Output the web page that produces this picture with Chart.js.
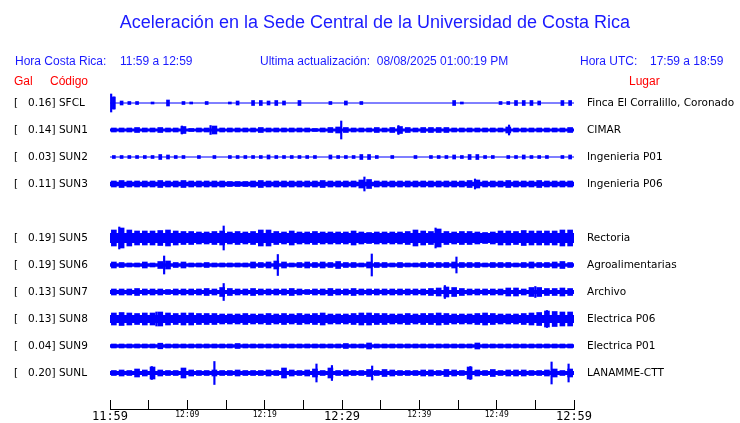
<!DOCTYPE html>
<html>
<head>
<meta charset="utf-8">
<title>Aceleración Sede Central UCR</title>
<script src="https://cdn.jsdelivr.net/npm/chart.js@4.4.1/dist/chart.umd.min.js"></script>
<style>
  body { margin: 0; background: #fff; }
  #wrap { position: relative; width: 740px; height: 423px; overflow: hidden; }
  #sede-chart { position: absolute; left: 0; top: 0; }
  .txt { position: absolute; white-space: pre; line-height: 1; font-family: "Liberation Sans", Arial, sans-serif; font-size: 12px; }
  .blue { color: #1a1aff; }
  .red { color: #ff0000; }
</style>
</head>
<body>
<div id="wrap">
  <canvas id="sede-chart" width="740" height="423"></canvas>
  <div class="txt blue" style="left:0; width:750px; text-align:center; top:13px; font-size:18px;">Aceleración en la Sede Central de la Universidad de Costa Rica</div>
  <div class="txt blue" style="left:15px; top:55px;">Hora Costa Rica:</div>
  <div class="txt blue" style="left:120px; top:55px;">11:59 a 12:59</div>
  <div class="txt blue" style="left:260px; top:55px;">Ultima actualización:  08/08/2025 01:00:19 PM</div>
  <div class="txt blue" style="left:580px; top:55px;">Hora UTC:</div>
  <div class="txt blue" style="left:650px; top:55px;">17:59 a 18:59</div>
  <div class="txt red" style="left:14px; top:75px;">Gal</div>
  <div class="txt red" style="left:50px; top:75px;">Código</div>
  <div class="txt red" style="left:629px; top:75px;">Lugar</div>
</div>
<script>
document.addEventListener("DOMContentLoaded", function () {
  // slot 4 is the missing SUN4 trace (blank row)
  const stations = ["SFCL", "SUN1", "SUN2", "SUN3", null, "SUN5", "SUN6", "SUN7", "SUN8", "SUN9", "SUNL"];
  const peakGal = [0.16, 0.14, 0.03, 0.11, null, 0.19, 0.19, 0.13, 0.13, 0.04, 0.20];
  const places = ["Finca El Corralillo, Coronado", "CIMAR", "Ingenieria P01", "Ingenieria P06", null,
    "Rectoria", "Agroalimentarias", "Archivo", "Electrica P06", "Electrica P01", "LANAMME-CTT"];
  const tickLabels = ["11:59", "12:09", "12:19", "12:29", "12:39", "12:49", "12:59"];

  // background noise level of each trace
  const noiseFloor = [0.5, 1.5, 0.6, 2.2, null, 5, 1.8, 2, 4, 1.8, 2];

  // peak amplitude per minute (11:59 .. 12:58)
  const envSFCL = [6, 2, 1.5, 1.5, 0, 1, 0, 3, 0, 1.5, 1, 0, 1.5, 0, 0, 1, 2, 0, 2.5, 2.5,
    2, 2.5, 2, 0, 2.5, 0, 0, 0, 1.5, 0, 2, 0, 1.5, 0, 0, 0, 0, 0, 0, 0,
    0, 0, 0, 0, 2.5, 1, 0, 0, 0, 0, 1.5, 1.5, 2.5, 2.5, 2.5, 2, 0, 0, 2.5, 2.5];
  const envSUN1 = [2, 2, 2, 2.5, 2, 2, 2.5, 2, 2, 3.5, 1.5, 2, 2, 4, 2, 2, 2, 2, 2, 2.5,
    2, 2, 2, 2, 2, 2, 1.5, 2, 2.5, 3, 2.5, 2, 2, 2, 2.5, 2, 2.5, 3.5, 2.5, 2,
    2.5, 2.5, 2.5, 2.5, 2, 2, 2, 2, 2, 2, 2, 3, 2, 2, 2, 2, 2, 2, 2, 2.5];
  const envSUN2 = [1.5, 1.5, 1.5, 1.5, 1.5, 1.5, 2.5, 2, 1.5, 1.5, 0, 1.5, 0, 1.5, 0, 1.5, 1.5, 1.5, 1.5, 1.5,
    2, 1.5, 1.5, 1.5, 1.5, 1.5, 1.5, 0, 2, 1.5, 1.5, 1.5, 2.5, 2.5, 1.5, 0, 1.5, 0, 0, 1.5,
    0, 1.5, 1.5, 1.5, 2, 1.5, 2.5, 2.5, 1.5, 1.5, 0, 1.5, 1.5, 2, 1.5, 1.5, 1.5, 0, 1.5, 2];
  const envSUN3 = [3, 3.5, 3, 3, 3, 3, 3.5, 3, 3, 3.5, 3, 3, 3, 3, 3, 2.5, 2.5, 2.5, 3, 3.5,
    3, 3, 3, 3, 3, 3, 3, 3.5, 3, 3, 3, 3, 4, 4.5, 3, 3, 3, 3, 3, 3,
    3, 3, 3, 3, 3, 3, 3.5, 4, 3, 3, 3, 3.5, 3, 3, 3, 3.5, 3, 3, 3, 3];
  const envSUN5 = [8, 10, 8, 7, 7, 7, 7.5, 8, 7, 6.5, 6.5, 6, 6, 6.5, 7, 6, 6.5, 6, 6.5, 8,
    8, 6.5, 6, 7, 6, 6, 6.5, 6, 6, 6, 6, 7, 6, 5.5, 6, 6, 6, 6, 6.5, 8,
    7, 6.5, 9, 6.5, 6, 6.5, 6.5, 6, 5.5, 6, 7, 7, 6.5, 7.5, 7, 7, 7, 7, 8, 8];
  const envSUN6 = [3, 2.5, 2, 2, 3, 2, 3.5, 4, 2.5, 3, 2, 2, 2.5, 2, 2, 2, 2, 2, 3, 2.5,
    3, 4, 3, 2, 2.5, 3, 2.5, 3, 2.5, 3.5, 2.5, 2.5, 2, 3, 2.5, 2.5, 2, 2.5, 2, 2,
    2.5, 2.5, 2.5, 2.5, 3, 2.5, 2.5, 2.5, 2, 2.5, 2.5, 2.5, 2, 2.5, 3, 2.5, 2.5, 3, 3.5, 2.5];
  const envSUN7 = [3, 3, 3, 3.5, 3, 3, 3, 2.5, 3, 3, 3, 3, 3.5, 3, 4.5, 3.5, 3, 3, 3.5, 3,
    3, 3, 3, 3.5, 3, 2.5, 3, 3, 3.5, 3, 3, 3.5, 3, 3, 3, 3, 3, 3, 3, 3,
    3, 3.5, 4, 5, 4.5, 3.5, 3, 3, 3, 3, 3, 4, 4, 3, 4.5, 4.5, 3.5, 3.5, 4, 3.5];
  const envSUN8 = [6, 6.5, 6, 5.5, 6, 6, 7, 6, 5.5, 6, 6, 5.5, 5.5, 5.5, 5, 5, 5, 5.5, 5, 5,
    5.5, 5, 5.5, 5, 5.5, 5, 5.5, 6, 5, 5, 5, 5.5, 6, 6, 5.5, 5.5, 5, 5, 5.5, 5,
    5.5, 5.5, 6, 5.5, 5, 5, 5, 5.5, 6, 5.5, 5, 5, 5, 5.5, 6, 6.5, 8, 7.5, 7, 7];
  const envSUN9 = [2, 2, 2, 2, 2, 2, 2.8, 2, 2, 2, 2, 2, 2, 2, 2, 2, 2.5, 2, 2, 2,
    2, 2, 2, 2, 2, 2, 2, 2, 2, 2, 2.5, 2, 2, 3, 2, 2, 2, 2, 2, 2,
    2, 2, 2, 2, 2, 2, 2, 3, 2, 2, 2, 2, 2, 2, 2, 2, 2, 2, 2, 2];
  const envSUNL = [2.5, 3, 2.5, 4, 3, 6, 3, 2.5, 2.5, 5, 3, 2.5, 2.5, 3, 2.5, 2.5, 3, 2.5, 2.5, 2.5,
    3, 2.5, 5, 3, 2.5, 3, 4, 2.5, 5, 2.5, 3, 2.5, 2.5, 3.5, 2.5, 3.5, 3, 2.5, 2.5, 2.5,
    3, 3, 2.5, 3.5, 3, 2.5, 6, 3, 2.5, 3.5, 2.5, 3, 3, 3, 2.5, 2.5, 3, 4, 2.5, 4];

  // single peaks: [minute, amplitude]
  const spkSFCL = [[0.15, 9], [0.5, 6]];
  const spkSUN1 = [[9.3, 4], [13, 4.5], [29.9, 9], [37.3, 4.5], [51.6, 5]];
  const spkSUN2 = [];
  const spkSUN3 = [[32.9, 7], [47.2, 5]];
  const spkSUN5 = [[1.2, 11], [14.7, 12], [42.1, 10]];
  const spkSUN6 = [[7, 9], [21.7, 10.5], [33.85, 11], [44.8, 8]];
  const spkSUN7 = [[14.7, 8.5], [43.3, 6.5], [55, 5.5]];
  const spkSUN8 = [[6, 7], [56.5, 8.5]];
  const spkSUN9 = [];
  const spkSUNL = [[5.4, 6.5], [13.5, 11.5], [26.7, 9], [28.7, 7.5], [33.9, 7], [46.6, 6.5], [57.1, 11], [59.3, 9]];

  const envelopes = [envSFCL, envSUN1, envSUN2, envSUN3, null, envSUN5, envSUN6, envSUN7, envSUN8, envSUN9, envSUNL];
  const spikes = [spkSFCL, spkSUN1, spkSUN2, spkSUN3, null, spkSUN5, spkSUN6, spkSUN7, spkSUN8, spkSUN9, spkSUNL];

  const BLUE = "#0000ff";
  const ROW = 27;
  const canvas = document.getElementById("sede-chart");

  const datasets = [];
  stations.forEach((code, slot) => {
    if (!code) return;
    const base = slot * ROW;
    const quiet = code === "SFCL" || code === "SUN2";

    datasets.push({
      type: "line",
      data: [{ x: 0, y: base }, { x: 60, y: base }],
      borderColor: BLUE,
      borderWidth: noiseFloor[slot] * 2,
      borderCapStyle: "butt",
      pointRadius: 0
    });

    datasets.push({
      type: "bar",
      data: envelopes[slot]
        .map((a, m) => ({ x: m + 0.5, y: [base - a, base + a] }))
        .filter(p => p.y[1] > base),
      backgroundColor: BLUE,
      barThickness: quiet ? 3 : 5,
      grouped: false
    });

    datasets.push({
      type: "bar",
      data: spikes[slot].map(s => ({ x: s[0], y: [base - s[1], base + s[1]] })),
      backgroundColor: BLUE,
      barThickness: 1.5,
      grouped: false
    });
  });

  function stationTicks(scale) {
    scale.ticks = stations
      .map((code, slot) => code ? { value: slot * ROW } : null)
      .filter(Boolean);
  }

  function gridLabel(value) {
    const slot = Math.round(value / ROW);
    return "[   " + peakGal[slot].toFixed(2) + "] " + stations[slot];
  }

  new Chart(canvas, {
    type: "bar",
    data: { datasets: datasets },
    options: {
      responsive: false,
      animation: false,
      layout: { padding: { left: 14, top: 90, right: 0, bottom: 0 } },
      plugins: {
        legend: { display: false },
        tooltip: { enabled: false }
      },
      scales: {
        x: {
          type: "linear",
          min: 0,
          max: 60,
          offset: false,
          ticks: {
            stepSize: 5,
            autoSkip: false,
            maxRotation: 0,
            padding: 10,
            color: "#000",
            callback: value => value % 10 === 0 ? tickLabels[value / 10] : "",
            font: ctx => ({
              family: "'DejaVu Sans Mono', monospace",
              size: ctx.tick && ctx.tick.value % 30 === 0 ? 12 : 8
            })
          },
          grid: {
            display: true,
            offset: false,
            drawOnChartArea: false,
            drawTicks: true,
            tickLength: -9,
            color: "#000"
          },
          border: { display: true, color: "#000", width: 1 },
          afterFit: scale => { scale.height = 14; }
        },
        y: {
          type: "linear",
          position: "left",
          min: -13,
          max: 306,
          reverse: true,
          grid: { display: false, drawTicks: false },
          border: { display: false },
          afterBuildTicks: stationTicks,
          ticks: {
            crossAlign: "far",
            padding: 0,
            color: "#000",
            font: { family: "'DejaVu Sans', sans-serif", size: 10.5 },
            callback: gridLabel
          },
          afterFit: scale => { scale.width = 96; }
        },
        y2: {
          type: "linear",
          position: "right",
          min: -13,
          max: 306,
          reverse: true,
          // hidden tick marks only push the labels 13px right of the plot
          grid: { display: false, drawTicks: true, tickLength: 13 },
          border: { display: false },
          afterBuildTicks: stationTicks,
          ticks: {
            padding: 0,
            color: "#000",
            font: { family: "'DejaVu Sans', sans-serif", size: 10.5 },
            callback: value => places[Math.round(value / ROW)]
          },
          afterFit: scale => { scale.width = 166; }
        }
      }
    }
  });
});
</script>
</body>
</html>
